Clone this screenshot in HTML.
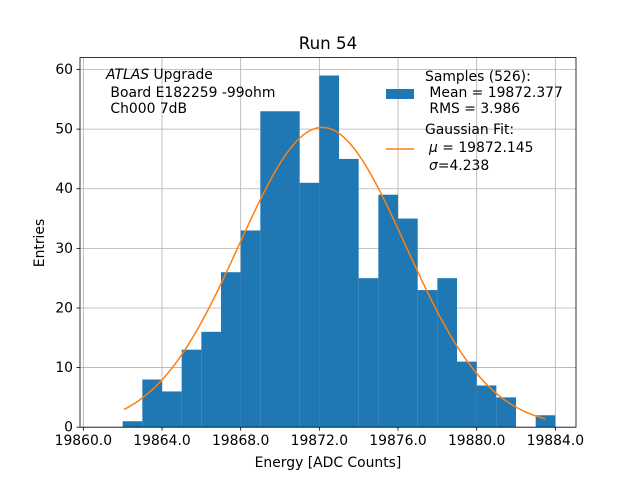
<!DOCTYPE html>
<html><head><meta charset="utf-8"><style>
body{margin:0;background:#fff;font-family:"Liberation Sans","DejaVu Sans",sans-serif}
svg text{font-family:"DejaVu Sans","Liberation Sans",sans-serif;white-space:pre}
</style></head><body>
<svg id="chart" width="640" height="480" xmlns="http://www.w3.org/2000/svg">
<rect width="640" height="480" fill="#fff"/>
<g id="grid"></g>
<g id="bars"></g>
<path id="fit" fill="none" stroke="#ff7f0e" stroke-width="1.5"/>
<rect x="80" y="57.6" width="496" height="369.6" fill="none" stroke="#000" stroke-width="0.8"/>
<g id="ticks" font-size="13.9"></g>
<text x="328" y="49" text-anchor="middle" font-size="16.7">Run 54</text>
<text x="328" y="467" text-anchor="middle" font-size="13.9">Energy [ADC Counts]</text>
<text x="44" y="243" text-anchor="middle" font-size="13.9" transform="rotate(-90 44 243)">Entries</text>
<g font-size="13.9">
<text x="106" y="79"><tspan font-style="italic">ATLAS</tspan> Upgrade</text>
<text x="106" y="97"> Board E182259 -99ohm</text>
<text x="106" y="113"> Ch000 7dB</text>
</g>
<g font-size="13.9">
<rect x="386" y="89" width="28" height="10" fill="#1f77b4"/>
<text x="425" y="81">Samples (526):</text>
<text x="425" y="97"> Mean = 19872.377</text>
<text x="425" y="113"> RMS = 3.986</text>
<line x1="386" y1="149" x2="414" y2="149" stroke="#ff7f0e" stroke-width="1.5"/>
<text x="425" y="134">Gaussian Fit:</text>
<text x="429" y="152"><tspan font-style="italic">μ</tspan> = 19872.145</text>
<text x="429" y="170"><tspan font-style="italic">σ</tspan>=4.238</text>
</g>
</svg>
<script>
const binStarts=[19862,19863,19864,19865,19866,19867,19868,19869,19870,19871,19872,19873,19874,19875,19876,19877,19878,19879,19880,19881,19882,19883];
const counts=[1,8,6,13,16,26,33,53,53,41,59,45,25,39,35,23,25,11,7,5,0,2];
const xTicks=[19860,19864,19868,19872,19876,19880,19884];
const yTicks=[0,10,20,30,40,50,60];
const fitMu=19872.145, fitSigma=4.238, fitAmp=50.3, fitStart=19862.07, fitEnd=19883.5;
const X0=80,X1=576,Y0=427.2,Y1=57.6,xmin=19859.83,xmax=19885.05,ymin=0,ymax=62;
const sx=v=>X0+(v-xmin)/(xmax-xmin)*(X1-X0);
const sy=v=>Y0-(v-ymin)/(ymax-ymin)*(Y0-Y1);
const NS="http://www.w3.org/2000/svg";
function mk(t,a){const e=document.createElementNS(NS,t);for(const k in a)e.setAttribute(k,a[k]);return e;}
const grid=document.getElementById('grid'),bars=document.getElementById('bars'),ticks=document.getElementById('ticks');
xTicks.forEach(v=>{const x=sx(v);
 const g=mk('line',{x1:x,x2:x,y1:Y1,y2:Y0,stroke:'#b0b0b0','stroke-width':0.8});
 
 grid.appendChild(g);
 const t=mk('line',{x1:x,x2:x,y1:Y0,y2:Y0+3.5,stroke:'#000','stroke-width':0.8});ticks.appendChild(t);
 const l=mk('text',{x:x,y:Y0+18,'text-anchor':'middle'});l.textContent=v.toFixed(1);
 
 ticks.appendChild(l);});
yTicks.forEach(v=>{const y=sy(v);
 const g=mk('line',{x1:X0,x2:X1,y1:y,y2:y,stroke:'#b0b0b0','stroke-width':0.8});
 
 grid.appendChild(g);
 const t=mk('line',{x1:X0-3.5,x2:X0,y1:y,y2:y,stroke:'#000','stroke-width':0.8});ticks.appendChild(t);
 const l=mk('text',{x:X0-7,y:y+4.5,'text-anchor':'end'});l.textContent=v;
 
 ticks.appendChild(l);});
binStarts.forEach((b,i)=>{if(!counts[i])return;
 const r=mk('rect',{x:sx(b),width:sx(b+1)-sx(b),y:sy(counts[i]),height:sy(0)-sy(counts[i]),fill:'#1f77b4'});
 
 bars.appendChild(r);});
let d='';for(let i=0;i<=200;i++){const v=fitStart+(fitEnd-fitStart)*i/200;
 const y=fitAmp*Math.exp(-0.5*((v-fitMu)/fitSigma)**2);d+=(i?'L':'M')+sx(v).toFixed(2)+','+sy(y).toFixed(2);}
document.getElementById('fit').setAttribute('d',d);
</script>
</body></html>
